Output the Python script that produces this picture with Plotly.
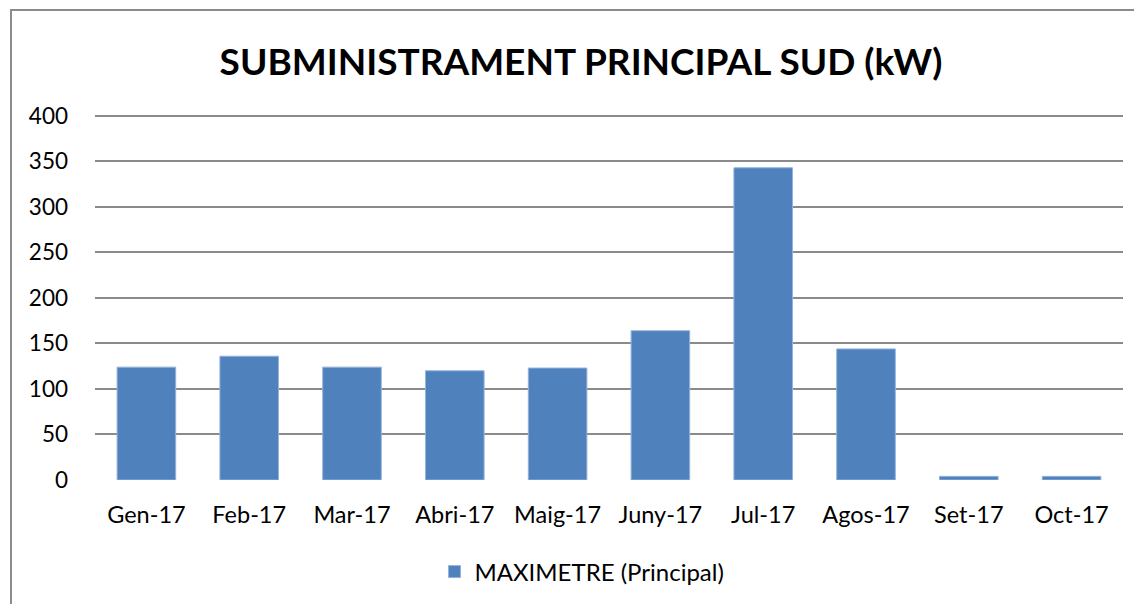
import plotly.graph_objects as go

categories = ["Gen-17", "Feb-17", "Mar-17", "Abri-17", "Maig-17", "Juny-17",
              "Jul-17", "Agos-17", "Set-17", "Oct-17"]
maximetre = [124, 136, 124, 120, 123, 164, 343, 144, 4, 4]
y_ticks = [0, 50, 100, 150, 200, 250, 300, 350, 400]
series_name = "MAXIMETRE (Principal)"
title_text = "SUBMINISTRAMENT PRINCIPAL SUD (kW)"

W, H = 1134, 604
L, R, T, B = 95, 11, 115, 124
pw, ph = W - L - R, H - T - B

fig = go.Figure()
fig.add_trace(go.Bar(
    x=categories, y=maximetre, name=series_name,
    marker=dict(color="#4F81BD", line=dict(color="#93B3DC", width=1)),
))

font_family = "Lato, Carlito, Calibri, sans-serif"

fig.update_layout(
    width=W, height=H,
    margin=dict(l=L, r=R, t=T, b=B, autoexpand=False),
    paper_bgcolor="white", plot_bgcolor="white",
    font=dict(family=font_family, size=23, color="#000000"),
    title=dict(text="<b>" + title_text + "</b>", x=581 / W, xanchor="center",
               y=1 - 62 / H, yanchor="middle", xref="container",
               yref="container",
               font=dict(family=font_family, size=37, color="#000000")),
    bargap=0.43,
    showlegend=True,
    legend=dict(orientation="h", xref="container", yref="container",
                x=582 / W, xanchor="center", y=1 - 572 / H, yanchor="middle",
                font=dict(size=24), itemwidth=30),
    xaxis=dict(showgrid=False, showline=False, zeroline=False, ticks="",
               ticklabelstandoff=18, tickfont=dict(size=23.5)),
    yaxis=dict(range=[0, 401], tickvals=y_ticks, showgrid=True,
               gridcolor="#8a8a8a", gridwidth=2, zeroline=False, showline=False,
               ticks="", ticklabelstandoff=26, tickfont=dict(size=22.5)),
    shapes=[dict(type="rect", xref="paper", yref="paper",
                 x0=(11 - L) / pw, x1=(W + 10 - L) / pw,
                 y0=-(H + 10 - T - ph) / ph, y1=1 + (T - 10) / ph,
                 line=dict(color="#8c8c8c", width=2), fillcolor="rgba(0,0,0,0)",
                 layer="below")],
)
fig.add_hline(y=y_ticks[-1], line=dict(color="#8a8a8a", width=2), layer="below")

fig.write_html("out.html", config={"displayModeBar": False},
               post_script="document.body.style.margin='0';document.body.style.overflow='hidden';")
